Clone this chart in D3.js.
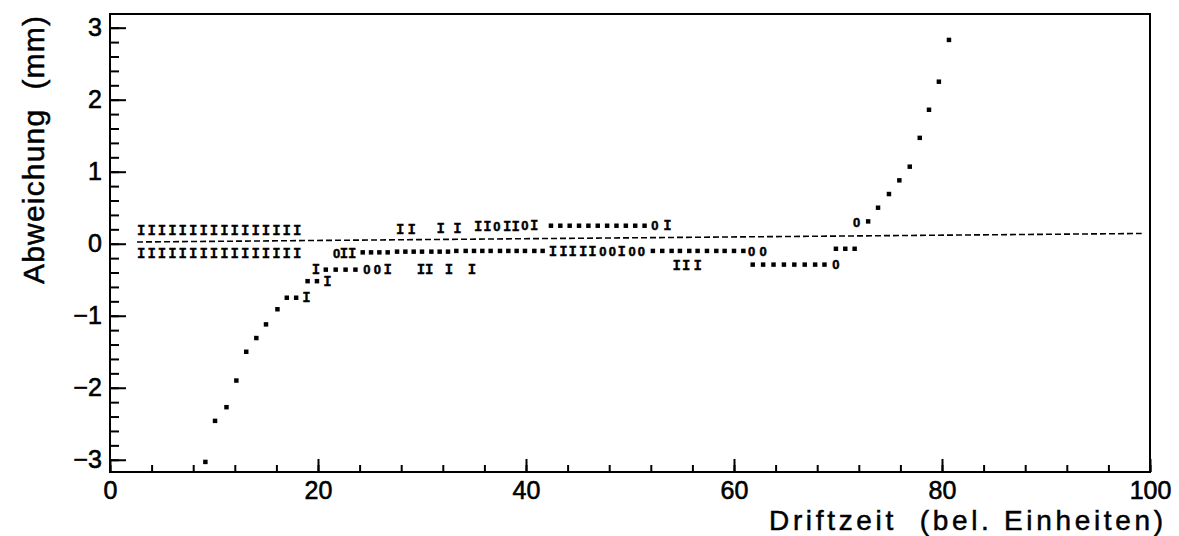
<!DOCTYPE html>
<html>
<head>
<meta charset="utf-8">
<script src="https://cdn.jsdelivr.net/npm/d3@7"></script>
<style>
  html, body { margin: 0; padding: 0; background: #fff; }
  svg { display: block; }
</style>
</head>
<body>
<svg id="chart" width="1179" height="536"></svg>
<script>
// ---- axis ticks ----
const xMajorTicks = [0, 20, 40, 60, 80, 100];
const yMajorTicks = [-3, -2, -1, 0, 1, 2, 3];

// ---- reference line (fit), two end points ----
const fitX = [2.6, 99.2];
const fitY = [0.024, 0.142];

// ---- "I" glyphs: drift time and deviation ----
const barX = [
  3, 4, 5, 6, 7, 8, 9, 10, 11, 12, 13, 14, 15, 16, 17, 18,
  3, 4, 5, 6, 7, 8, 9, 10, 11, 12, 13, 14, 15, 16, 17, 18,
  27.9, 29.0, 31.8, 33.4, 35.4, 36.3, 38.2, 39.0, 40.8, 53.6,
  22.5, 23.3, 42.6, 43.6, 44.5, 45.5, 46.4, 49.2,
  19.8, 26.7, 29.9, 30.7, 32.6, 34.8, 54.5, 55.4, 56.5,
  20.9, 18.9
];
const barY = [
  0.19, 0.19, 0.19, 0.19, 0.19, 0.19, 0.19, 0.19, 0.19, 0.19, 0.19, 0.19, 0.19, 0.19, 0.19, 0.19,
  -0.14, -0.14, -0.14, -0.14, -0.14, -0.14, -0.14, -0.14, -0.14, -0.14, -0.14, -0.14, -0.14, -0.14, -0.14, -0.14,
  0.20, 0.20, 0.21, 0.21, 0.24, 0.24, 0.24, 0.24, 0.25, 0.25,
  -0.13, -0.13, -0.10, -0.10, -0.10, -0.10, -0.10, -0.10,
  -0.36, -0.35, -0.35, -0.35, -0.35, -0.35, -0.30, -0.30, -0.30,
  -0.52, -0.75
];

// ---- "0" glyphs ----
const ringX = [37.2, 39.9, 52.4, 21.8, 47.4, 48.3, 50.2, 51.1, 61.7, 62.8, 24.7, 25.7, 69.8, 71.8];
const ringY = [0.24, 0.25, 0.25, -0.13, -0.10, -0.10, -0.10, -0.10, -0.10, -0.10, -0.35, -0.35, -0.29, 0.30];

// ---- "*" points ----
const starX = [
  // upper row
  42.4, 43.3, 44.2, 45.1, 46.0, 46.9, 47.8, 48.7, 49.6, 50.5, 51.4,
  // lower row
  24.3, 25.1, 25.9, 26.7, 27.6, 28.4, 29.2, 30.0, 30.9, 31.7, 32.5,
  33.3, 34.2, 35.0, 35.8, 36.6, 37.5, 38.3, 39.1, 39.9, 40.8, 41.6,
  52.2, 53.1, 54.0, 54.8, 55.7, 56.5, 57.4, 58.3, 59.1, 60.0, 60.9,
  69.8, 70.7, 71.6,
  // second lower row
  20.75, 21.7, 22.65, 23.6,
  61.8, 62.8, 63.8, 64.8, 65.8, 66.8, 67.8, 68.7,
  // short runs
  19.0, 19.9, 17.0, 17.9,
  // falling branch
  9.17, 10.1, 11.2, 12.15, 13.1, 14.07, 15.0, 16.1,
  // rising branch
  72.9, 73.85, 74.9, 75.9, 76.9, 77.86, 78.75, 79.7, 80.67
];
const starY = [
  0.25, 0.25, 0.25, 0.25, 0.25, 0.25, 0.25, 0.25, 0.25, 0.25, 0.25,
  -0.12, -0.12, -0.12, -0.12, -0.11, -0.11, -0.11, -0.11, -0.11, -0.11, -0.11,
  -0.10, -0.10, -0.10, -0.10, -0.10, -0.10, -0.10, -0.10, -0.10, -0.10, -0.10,
  -0.10, -0.10, -0.10, -0.10, -0.10, -0.10, -0.10, -0.10, -0.10, -0.10, -0.10,
  -0.07, -0.07, -0.07,
  -0.36, -0.36, -0.36, -0.36,
  -0.29, -0.29, -0.29, -0.29, -0.29, -0.29, -0.29, -0.29,
  -0.52, -0.52, -0.75, -0.75,
  -3.03, -2.46, -2.27, -1.90, -1.50, -1.31, -1.12, -0.91,
  0.31, 0.50, 0.69, 0.88, 1.07, 1.47, 1.86, 2.25, 2.83
];

const svg = d3.select("#chart");

const x = d3.scaleLinear().domain([0, 100]).range([110, 1150]);
const y = d3.scaleLinear().domain([-3.17, 3.19]).range([472, 14]);

const labelFont = "'Liberation Sans', Arial, Helvetica, sans-serif";
const glyphFont = "'Liberation Mono', 'Courier New', monospace";
const fmt = d => (d < 0 ? "\u2212" + Math.abs(d) : String(d));

// frame
svg.append("rect")
  .attr("x", x(0)).attr("y", y(3.19))
  .attr("width", x(100) - x(0)).attr("height", y(-3.17) - y(3.19))
  .attr("fill", "none").attr("stroke", "#000").attr("stroke-width", 2);

// y axis: minor then major ticks, drawn inward
const yAxisG = svg.append("g").attr("transform", `translate(${x(0)},0)`);
yAxisG.append("g")
  .call(d3.axisLeft(y).tickValues(d3.range(-30, 31, 2).map(v => v / 10)).tickSizeInner(-9).tickSizeOuter(0).tickFormat(""))
  .call(g => g.select(".domain").remove());
yAxisG.append("g")
  .call(d3.axisLeft(y).tickValues(yMajorTicks).tickSizeInner(-16).tickSizeOuter(0).tickPadding(8).tickFormat(fmt))
  .call(g => g.select(".domain").remove());

// x axis: minor then major ticks, drawn inward
const xAxisG = svg.append("g").attr("transform", `translate(0,${y(-3.17)})`);
xAxisG.append("g")
  .call(d3.axisBottom(x).tickValues(d3.range(0, 101, 4)).tickSizeInner(-7).tickSizeOuter(0).tickFormat(""))
  .call(g => g.select(".domain").remove());
xAxisG.append("g")
  .call(d3.axisBottom(x).tickValues(xMajorTicks).tickSizeInner(-13).tickSizeOuter(0).tickPadding(9).tickFormat(fmt))
  .call(g => g.select(".domain").remove());

svg.selectAll(".tick line").attr("stroke", "#000").attr("stroke-width", 2);
svg.selectAll(".tick text")
  .attr("fill", "#000")
  .attr("stroke", "#000").attr("stroke-width", 0.6)
  .style("font-family", labelFont)
  .style("font-size", "25px");

// axis titles
svg.append("text")
  .attr("x", 769).attr("y", 529.5)
  .attr("textLength", 394).attr("lengthAdjust", "spacing")
  .style("font-family", labelFont).style("font-size", "28px")
  .attr("fill", "#000").attr("stroke", "#000").attr("stroke-width", 0.5)
  .attr("xml:space", "preserve")
  .text("Driftzeit  (bel. Einheiten)");

svg.append("text")
  .attr("transform", "translate(44,150) rotate(-90)")
  .attr("text-anchor", "middle")
  .attr("textLength", 268).attr("lengthAdjust", "spacing")
  .style("font-family", labelFont).style("font-size", "30px")
  .attr("fill", "#000").attr("stroke", "#000").attr("stroke-width", 0.5)
  .attr("xml:space", "preserve")
  .text("Abweichung  (mm)");

// dashed fit line
svg.append("path")
  .datum(d3.zip(fitX, fitY))
  .attr("d", d3.line().x(d => x(d[0])).y(d => y(d[1])))
  .attr("fill", "none").attr("stroke", "#000")
  .attr("stroke-width", 1.6).attr("stroke-dasharray", "6,3");

// "I" glyphs
svg.append("g").selectAll("text")
  .data(d3.zip(barX, barY))
  .join("text")
  .attr("x", d => x(d[0])).attr("y", d => y(d[1]))
  .attr("dy", "0.33em").attr("text-anchor", "middle")
  .style("font-family", glyphFont).style("font-weight", "bold").style("font-size", "14px")
  .attr("fill", "#000").attr("stroke", "#000").attr("stroke-width", 0.3)
  .text("I");

// "0" glyphs
svg.append("g").selectAll("text")
  .data(d3.zip(ringX, ringY))
  .join("text")
  .attr("x", d => x(d[0])).attr("y", d => y(d[1]))
  .attr("dy", "0.36em").attr("text-anchor", "middle")
  .style("font-family", labelFont).style("font-weight", "bold").style("font-size", "13px")
  .attr("fill", "#000").attr("stroke", "#000").attr("stroke-width", 0.5)
  .text("0");

// "*" points, printed small so they read as dots
const dot = d3.symbol().type(d3.symbolSquare).size(20);
svg.append("g").selectAll("path")
  .data(d3.zip(starX, starY))
  .join("path")
  .attr("transform", d => `translate(${x(d[0])},${y(d[1])})`)
  .attr("d", dot)
  .attr("fill", "#000");
</script>
</body>
</html>
